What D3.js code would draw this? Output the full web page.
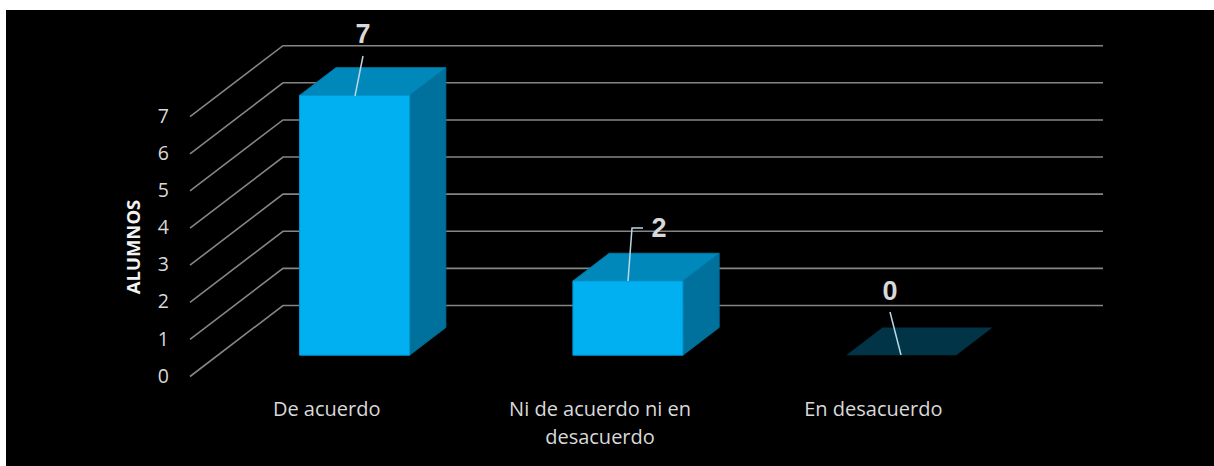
<!DOCTYPE html>
<html><head><meta charset="utf-8">
<script src="https://cdn.jsdelivr.net/npm/d3@7"></script>
<style>html,body{margin:0;padding:0;background:#fff;}svg{display:block;}</style>
</head><body>
<script>
const categories = ["De acuerdo", "Ni de acuerdo ni en desacuerdo", "En desacuerdo"];
const categoryLines = [["De acuerdo"], ["Ni de acuerdo ni en", "desacuerdo"], ["En desacuerdo"]];
const values = [7, 2, 0];
const yTicks = [0, 1, 2, 3, 4, 5, 6, 7];
const yTitle = "ALUMNOS";

const W = 1214, H = 466;
const svg = d3.select("body").append("svg").attr("width", W).attr("height", H);
svg.append("rect").attr("x", 6).attr("y", 10).attr("width", W - 6).attr("height", H - 10).attr("fill", "#000");

// 3D projection parameters
const DX = 93, DY = -71;
const x = d3.scaleBand().domain(categories).range([190, 1010]).paddingInner(0).paddingOuter(0);
const y = d3.scaleLinear().domain([0, 7]).range([376.5, 116.7]);
const P = (px, v, d) => [px + d * DX, y(v) + d * DY];

// gridlines: left wall diagonal + back wall horizontal
const grid = svg.append("g");
yTicks.forEach(t => {
  const a = P(190, t, 0), b = P(190, t, 1), c = P(1010, t, 1);
  grid.append("path").attr("d", d3.line()([a, b, c]))
    .attr("fill", "none").attr("stroke", "#858585").attr("stroke-width", 1.6);
});

// y tick labels
svg.append("g").selectAll("text").data(yTicks).join("text")
  .attr("x", 169).attr("y", d => y(d) + 1).attr("text-anchor", "end")
  .attr("dominant-baseline", "middle")
  .attr("font-family", "Open Sans, sans-serif").attr("font-size", 19.5).attr("fill", "#d9d9d9")
  .text(d => d);

// y title
svg.append("text").attr("transform", "translate(140,247) rotate(-90)")
  .attr("text-anchor", "middle").attr("font-family", "Open Sans, sans-serif")
  .attr("font-weight", "bold").attr("font-size", 18.5).attr("fill", "#f2f2f2").text(yTitle);

// bars
const bw = 110, d0 = 0.3, d1 = 0.69;
const bars = svg.append("g");
categories.forEach((c, i) => {
  const v = values[i];
  const cx = x(c) + x.bandwidth() / 2;
  const l = cx - bw / 2, r = cx + bw / 2;
  const poly = pts => bars.append("path").attr("d", d3.line()(pts) + "Z");
  if (v === 0) {
    poly([P(l, 0, d0), P(r, 0, d0), P(r, 0, d1), P(l, 0, d1)]).attr("fill", "#003446");
  } else {
    poly([P(r, 0, d0), P(r, v, d0), P(r, v, d1), P(r, 0, d1)]).attr("fill", "#00719c").attr("stroke", "#006a92").attr("stroke-width", 1);
    poly([P(l, v, d0), P(r, v, d0), P(r, v, d1), P(l, v, d1)]).attr("fill", "#0088bb").attr("stroke", "#0079a8").attr("stroke-width", 1);
    poly([P(l, 0, d0), P(r, 0, d0), P(r, v, d0), P(l, v, d0)]).attr("fill", "#00b0f0").attr("stroke", "#0098d0").attr("stroke-width", 1);
  }
});

// value labels with leader lines
const lbl = svg.append("g");
const lead = [
  {pts: [[355, 96], [363, 56]], tx: 363, ty: 36},
  {pts: [[628, 281], [632, 228], [643, 228]], tx: 659, ty: 230},
  {pts: [[901, 355], [890, 312]], tx: 890, ty: 293}
];
values.forEach((v, i) => {
  const L = lead[i];
  lbl.append("path").attr("d", d3.line()(L.pts)).attr("fill", "none")
    .attr("stroke", "#b8d8e6").attr("stroke-width", 1.5);
  lbl.append("text").attr("x", L.tx).attr("y", L.ty).attr("text-anchor", "middle")
    .attr("dominant-baseline", "middle").attr("font-family", "Liberation Sans, Arial, sans-serif")
    .attr("font-weight", "bold").attr("font-size", 27).attr("fill", "#d9d9d9").text(v);
});

// category labels
const cl = svg.append("g");
categories.forEach((c, i) => {
  const cx = x(c) + x.bandwidth() / 2;
  const t = cl.append("text").attr("x", cx).attr("y", 416).attr("text-anchor", "middle")
    .attr("font-family", "Open Sans, sans-serif").attr("font-size", 20).attr("fill", "#d9d9d9");
  categoryLines[i].forEach((s, j) => {
    t.append("tspan").attr("x", cx).attr("dy", j === 0 ? 0 : 28).text(s);
  });
});
</script>
</body></html>
